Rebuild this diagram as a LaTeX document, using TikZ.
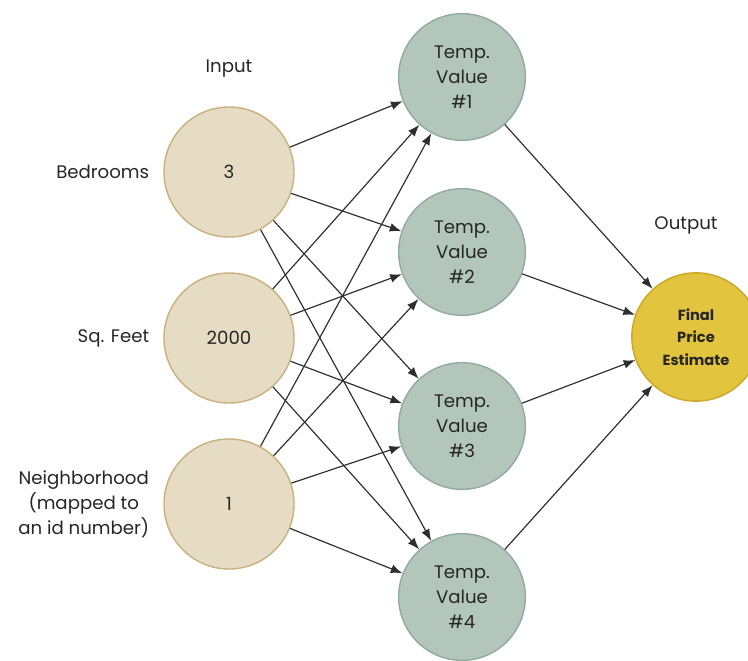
\documentclass[tikz,border=0pt]{standalone}
\usepackage{fontspec}
\setmainfont{Poppins}
\usepackage{xcolor}
\usepackage{tikz}
\usetikzlibrary{
arrows.meta,
positioning
}

\definecolor{inputfill}{HTML}{E6DCC4}
\definecolor{inputline}{HTML}{C9B07E}
\definecolor{tempfill}{HTML}{B2C6BC}
\definecolor{templine}{HTML}{93AA9E}
\definecolor{outfill}{HTML}{E3C43F}
\definecolor{outline}{HTML}{C9A825}
\definecolor{edgegray}{HTML}{2E2E2E}
\definecolor{labeltext}{HTML}{262626}

\begin{document}
\begin{tikzpicture}[
x=0.03cm, y=-0.03cm,
node distance=0.3cm,
every node/.style={text=labeltext},
txt/.style={font=\fontsize{15.5}{21.5}\selectfont, align=center},
innode/.style={
circle,
draw=inputline,
fill=inputfill,
line width=1.2pt,
minimum size=3.9cm,
txt
},
tempnode/.style={
circle,
draw=templine,
fill=tempfill,
line width=1.2pt,
minimum size=3.8cm,
txt
},
outnode/.style={
circle,
draw=outline,
fill=outfill,
line width=1.2pt,
minimum size=3.85cm,
align=center,
font=\fontsize{12.5}{19}\selectfont\bfseries
},
arrow/.style={-{Latex[length=10pt,width=7.5pt]},draw=edgegray,line width=1pt}
]

\useasboundingbox (0,0) rectangle (748,660);

% input layer
\node[innode] (bedrooms) at (229,172) {3};
\node[innode] (sqfeet) at (229,338) {2000};
\node[innode] (hood) at (229,504) {1};

\node[txt,above=0.75cm of bedrooms] (inputlbl) {Input};
\node[txt,left=of bedrooms] (bedlbl) {Bedrooms};
\node[txt,left=of sqfeet] (sqlbl) {Sq. Feet};
\node[txt,left=of hood] (hoodlbl) {Neighborhood\\(mapped to\\an id number)};

% hidden layer
\node[tempnode] (temp1) at (462,77) {Temp.\\Value\\\#1};
\node[tempnode] (temp2) at (462,252) {Temp.\\Value\\\#2};
\node[tempnode] (temp3) at (462,426) {Temp.\\Value\\\#3};
\node[tempnode] (temp4) at (462,597) {Temp.\\Value\\\#4};

% output
\node[outnode] (final) at (696,337) {Final\\Price\\Estimate};
\node[txt] (outputlbl) at (686,225) {Output};

\draw[arrow] (bedrooms) -- (temp1);
\draw[arrow] (bedrooms) -- (temp2);
\draw[arrow] (bedrooms) -- (temp3);
\draw[arrow] (bedrooms) -- (temp4);

\draw[arrow] (sqfeet) -- (temp1);
\draw[arrow] (sqfeet) -- (temp2);
\draw[arrow] (sqfeet) -- (temp3);
\draw[arrow] (sqfeet) -- (temp4);

\draw[arrow] (hood) -- (temp1);
\draw[arrow] (hood) -- (temp2);
\draw[arrow] (hood) -- (temp3);
\draw[arrow] (hood) -- (temp4);

\draw[arrow] (temp1) -- (final);
\draw[arrow] (temp2) -- (final);
\draw[arrow] (temp3) -- (final);
\draw[arrow] (temp4) -- (final);

\end{tikzpicture}
\end{document}
